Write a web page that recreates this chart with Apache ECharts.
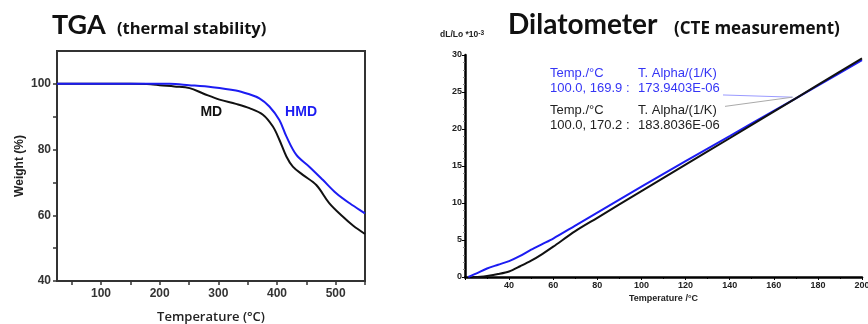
<!DOCTYPE html>
<html>
<head>
<meta charset="utf-8">
<script src="https://cdn.jsdelivr.net/npm/echarts@6/dist/echarts.min.js"></script>
<style>html,body{margin:0;padding:0;background:#fff}#c{width:868px;height:324px}</style>
</head>
<body>
<div id="c"></div>
<script>
// ---- TGA data ----
const mdTemp   = [25, 150, 185, 200, 225, 251, 275, 302, 330, 353, 376, 393, 404, 416, 427, 444, 467, 489, 512, 530, 550];
const mdWeight = [100, 100, 99.9, 99.6, 99.2, 98.7, 97.0, 95.2, 93.9, 92.6, 90.6, 87.0, 83.0, 77.9, 74.8, 72.3, 69.2, 63.7, 59.6, 56.8, 54.3];
const hmdTemp   = [25, 200, 217, 250, 290, 330, 350, 370, 387, 404, 416, 433, 455, 478, 501, 525, 550];
const hmdWeight = [100, 100, 100, 99.6, 99.0, 98.0, 97.0, 95.6, 93.1, 89.0, 84.0, 78.4, 74.8, 70.8, 66.7, 63.5, 60.6];
const tgaXLabels = [100, 200, 300, 400, 500];
const tgaXTicks  = [50, 100, 150, 200, 250, 300, 350, 400, 450, 500, 550];
const tgaYLabels = [40, 60, 80, 100];
const tgaYTicks  = [40, 50, 60, 70, 80, 90, 100];

// ---- Dilatometer data ----
const dilBlueTemp = [21.5, 25, 30, 35, 40, 45, 50, 55, 60, 70, 80, 100, 120, 140, 160, 180, 200];
const dilBlueVal  = [0, 0.45, 1.15, 1.65, 2.15, 2.85, 3.7, 4.45, 5.2, 6.95, 8.7, 12.2, 15.65, 19.05, 22.45, 25.85, 29.3];
const dilBlackTemp = [23.5, 27, 30, 35, 40, 45, 50, 55, 60, 70, 80, 100, 120, 140, 160, 180, 200];
const dilBlackVal  = [0, 0.05, 0.15, 0.4, 0.75, 1.45, 2.2, 3.1, 4.1, 6.2, 8.0, 11.6, 15.2, 18.75, 22.35, 25.95, 29.55];

const zip = (a, b) => a.map((v, i) => [v, b[i]]);
const BLUE = '#1c1cf2';
const AX = '#333';
const tickFont = {fontFamily: 'Liberation Sans, Arial', fontWeight: 'bold'};

const chart = echarts.init(document.getElementById('c'), null, {renderer: 'canvas'});
chart.setOption({
  animation: false,
  backgroundColor: '#fff',
  grid: [
    {left: 57, top: 51, width: 308, height: 230, show: true, borderColor: AX, borderWidth: 2,
     backgroundColor: 'transparent', containLabel: false, outerBoundsMode: 'none'},
    {left: 465, top: 55, width: 397, height: 222, containLabel: false, outerBoundsMode: 'none'}
  ],
  xAxis: [
    {gridIndex: 0, type: 'value', position: 'bottom', min: 25, max: 550,
     axisLine: {lineStyle: {color: AX, width: 2}},
     axisTick: {customValues: tgaXTicks, length: 4, lineStyle: {color: AX, width: 1.5}},
     axisLabel: Object.assign({customValues: tgaXLabels, fontSize: 12, color: AX, margin: 7}, tickFont),
     splitLine: {show: false},
     name: 'Temperature (°C)', nameLocation: 'middle', nameGap: 30, nameMoveOverlap: false,
     nameTextStyle: {fontFamily: 'Open Sans', fontWeight: 600, fontSize: 13, color: '#222'}},
    {gridIndex: 1, type: 'value', position: 'bottom', min: 20, max: 200, interval: 20,
     axisLine: {lineStyle: {color: '#000', width: 2.5}},
     axisTick: {length: 3, lineStyle: {color: '#000', width: 1}},
     minorTick: {show: true, splitNumber: 2, length: 2, lineStyle: {color: '#000'}},
     axisLabel: Object.assign({fontSize: 9, color: '#222', margin: 4, showMinLabel: false}, tickFont),
     splitLine: {show: false},
     name: 'Temperature /°C', nameLocation: 'middle', nameGap: 17, nameMoveOverlap: false,
     nameTextStyle: Object.assign({fontSize: 9, color: '#222'}, tickFont)}
  ],
  yAxis: [
    {gridIndex: 0, type: 'value', position: 'left', min: 40, max: 110,
     axisLine: {lineStyle: {color: AX, width: 2}},
     axisTick: {customValues: tgaYTicks, length: 4, lineStyle: {color: AX, width: 1.5}},
     axisLabel: Object.assign({customValues: tgaYLabels, fontSize: 12, color: AX, margin: 6}, tickFont),
     splitLine: {show: false},
     name: 'Weight (%)', nameLocation: 'middle', nameGap: 31, nameRotate: 90, nameMoveOverlap: false,
     nameTextStyle: Object.assign({fontSize: 12, color: '#222'}, tickFont)},
    {gridIndex: 1, type: 'value', position: 'left', min: 0, max: 30, interval: 5,
     axisLine: {lineStyle: {color: '#000', width: 2.5}},
     axisTick: {length: 3, lineStyle: {color: '#000', width: 1}},
     minorTick: {show: true, splitNumber: 5, length: 2, lineStyle: {color: '#888'}},
     axisLabel: Object.assign({fontSize: 9, color: '#222', margin: 3}, tickFont),
     splitLine: {show: false}}
  ],
  series: [
    {type: 'line', xAxisIndex: 0, yAxisIndex: 0, data: zip(mdTemp, mdWeight), smooth: 0.35, showSymbol: false,
     lineStyle: {color: '#111', width: 2}, z: 3},
    {type: 'line', xAxisIndex: 0, yAxisIndex: 0, data: zip(hmdTemp, hmdWeight), smooth: 0.35, showSymbol: false,
     lineStyle: {color: BLUE, width: 2}, z: 4},
    {type: 'line', xAxisIndex: 1, yAxisIndex: 1, data: zip(dilBlueTemp, dilBlueVal), smooth: 0.3, showSymbol: false,
     lineStyle: {color: BLUE, width: 2}, z: 3},
    {type: 'line', xAxisIndex: 1, yAxisIndex: 1, data: zip(dilBlackTemp, dilBlackVal), smooth: 0.3, showSymbol: false,
     lineStyle: {color: '#111', width: 2}, z: 4}
  ]
});

// annotations
const p0 = (x, y) => chart.convertToPixel({xAxisIndex: 0, yAxisIndex: 0}, [x, y]);
const p1 = (x, y) => chart.convertToPixel({xAxisIndex: 1, yAxisIndex: 1}, [x, y]);
const md = p0(288, 91.5), hmd = p0(441, 91.5);
const meet = p1(168.5, 24.3), bStart = p1(117, 24.6), kStart = p1(118, 23.6);
const annFont = 'Liberation Sans, Arial';
const ABLUE = '#3535f5';
const txt = (x, y, text, size, color, weight, family, extra) => ({
  type: 'text', x: x, y: y, silent: true,
  style: Object.assign({text: text, fontSize: size, fill: color, fontWeight: weight || 'normal',
    fontFamily: family || annFont, verticalAlign: 'middle', align: 'left'}, extra || {})
});
chart.setOption({
  graphic: [
    txt(52, 25, 'TGA', 27, '#111', 'bold', 'Lato'),
    txt(117, 29, '(thermal stability)', 16.5, '#111', 'bold', 'Open Sans'),
    txt(508, 25, 'Dilatometer', 28, '#111', 'bold', 'Lato'),
    txt(674, 29, '(CTE measurement)', 17, '#111', 'bold', 'Open Sans'),
    {type: 'text', x: 440, y: 35, silent: true,
     style: {text: '{n|dL/Lo *10}{s|-3}', verticalAlign: 'middle',
       rich: {n: {fontSize: 8.5, fontWeight: 'bold', fontFamily: annFont, fill: '#222'},
              s: {fontSize: 6.5, fontWeight: 'bold', fontFamily: annFont, fill: '#222', verticalAlign: 'top', padding: [0, 0, 4, 0]}}}},
    txt(md[0], md[1], 'MD', 14, '#111', 'bold', 'Liberation Sans, Arial', {align: 'center'}),
    txt(hmd[0], hmd[1], 'HMD', 14, BLUE, 'bold', 'Liberation Sans, Arial', {align: 'center'}),
    txt(550, 73, 'Temp./°C', 13, ABLUE),
    txt(638, 73, 'T. Alpha/(1/K)', 13, ABLUE),
    txt(550, 88, '100.0, 169.9 :', 13, ABLUE),
    txt(638, 88, '173.9403E-06', 13, ABLUE),
    txt(550, 110, 'Temp./°C', 13, '#222'),
    txt(638, 110, 'T. Alpha/(1/K)', 13, '#222'),
    txt(550, 125, '100.0, 170.2 :', 13, '#222'),
    txt(638, 125, '183.8036E-06', 13, '#222'),
    {type: 'line', silent: true, shape: {x1: 723, y1: bStart[1], x2: meet[0], y2: meet[1]},
     style: {stroke: '#9a9aff', lineWidth: 1}},
    {type: 'line', silent: true, shape: {x1: 725, y1: kStart[1] + 4, x2: meet[0], y2: meet[1]},
     style: {stroke: '#aaa', lineWidth: 1}}
  ]
});
</script>
</body>
</html>
